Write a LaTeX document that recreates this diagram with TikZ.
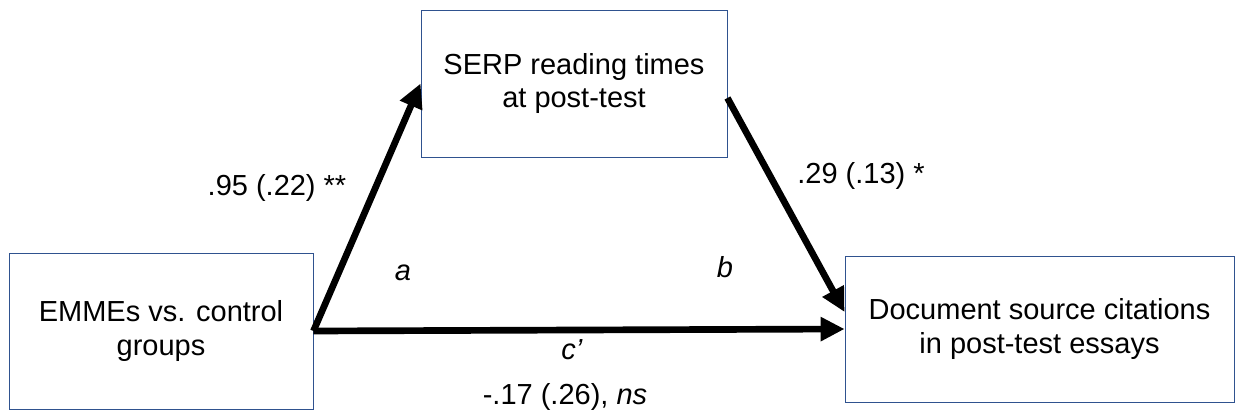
\documentclass[tikz,border=0pt]{standalone}
\usepackage{fontspec}
\setmainfont{Liberation Sans}
\usetikzlibrary{arrows.meta}
\definecolor{boxblue}{HTML}{2F528F}
\tikzset{
  varbox/.style={draw=boxblue,line width=0.5pt,align=center,inner sep=0pt,
    font=\fontsize{16.5}{19.3}\selectfont},
  path/.style={line width=3.8pt,-{Triangle[length=0.48cm,width=0.46cm]}},
  coef/.style={font=\fontsize{16.5}{19.3}\selectfont}
}
\begin{document}
\begin{tikzpicture}
  \useasboundingbox (0,0) rectangle (24.7,8.36);

  % 变量框
  \node[varbox,minimum width=6.08cm,minimum height=3.12cm] (group) at (3.22,1.74)
    {EMMEs vs. control\\groups};
  \node[varbox,minimum width=6.12cm,minimum height=2.94cm] (serp) at (11.48,6.69)
    {SERP reading times\\at post-test};
  \node[varbox,minimum width=7.78cm,minimum height=2.92cm] (cite) at (20.79,1.78)
    {Document source citations\\in post-test essays};

  % 路径箭头
  \draw[path] (group.east) -- (serp.west);
  \draw[path] ([yshift=-0.29cm]serp.east) -- ([yshift=0.34cm]cite.west);
  \draw[path] (group.east) -- (cite.west);

  % 系数标注
  \node[coef] (acoef) at (5.54,4.60) {.95 (.22) **};
  \node[coef] (bcoef) at (17.22,4.84) {.29 (.13) *};
  \node[coef] (ccoef) at (11.30,0.42) {-.17 (.26), \textit{ns}};
  \node[coef] (alab) at (8.06,2.90) {\textit{a}};
  \node[coef] (blab) at (14.50,3.02) {\textit{b}};
  \node[coef] (clab) at (11.44,1.36) {\textit{c’}};
\end{tikzpicture}
\end{document}
